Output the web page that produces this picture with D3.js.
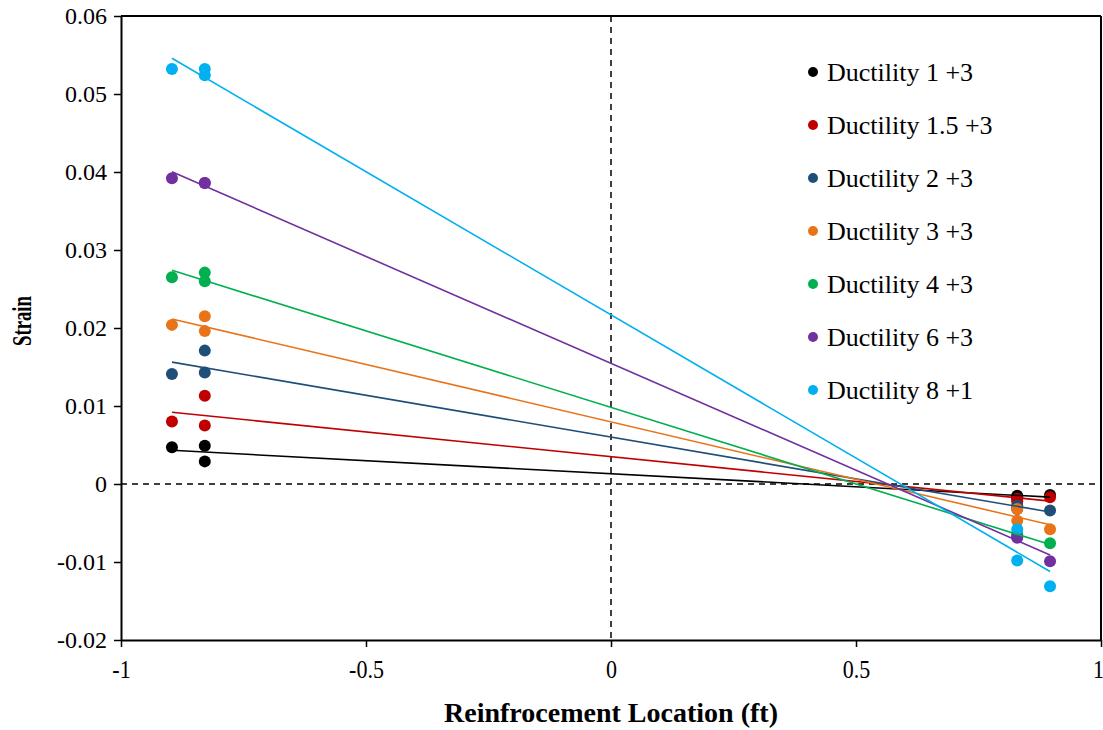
<!DOCTYPE html>
<html><head><meta charset="utf-8">
<script src="https://cdn.jsdelivr.net/npm/d3@7"></script>
<style>body{margin:0;background:#fff;} text{font-family:"Liberation Serif","Times New Roman",Times,serif;}</style>
</head><body><svg id="c" width="1103" height="730"></svg>
<script>
const seriesNames = ["Ductility 1 +3","Ductility 1.5 +3","Ductility 2 +3","Ductility 3 +3","Ductility 4 +3","Ductility 6 +3","Ductility 8 +1"];
const seriesColors = ["#000000","#C00000","#1F4E79","#E97318","#00B050","#7030A0","#00B0F0"];
const xLocations = [-0.896,-0.829,-0.829,0.829,0.829,0.896];
const duct1 = [0.0047,0.0049,0.0029,-0.0015,-0.0017,-0.0014];
const duct15 = [0.0080,0.0113,0.0075,-0.0022,-0.0019,-0.0017];
const duct2 = [0.0141,0.0171,0.0143,-0.0028,-0.0032,-0.0034];
const duct3 = [0.0204,0.0215,0.0196,-0.0032,-0.0047,-0.0058];
const duct4 = [0.0265,0.0271,0.0260,-0.0064,-0.0067,-0.0076];
const duct6 = [0.0392,0.0386,0.0386,-0.0068,-0.0069,-0.0099];
const duct8 = [0.0532,0.0532,0.0524,-0.0058,-0.0098,-0.0131];
const seriesValues = [duct1,duct15,duct2,duct3,duct4,duct6,duct8];
const xTicks = [-1,-0.5,0,0.5,1];
const yTicks = [-0.02,-0.01,0,0.01,0.02,0.03,0.04,0.05,0.06];

const svg = d3.select("#c");
const L=121,R=1101,T=16,B=640;
const x = d3.scaleLinear().domain([-1,1]).range([L,R]);
const y = d3.scaleLinear().domain([-0.02,0.06]).range([B,T]);
const FONT = '"Liberation Serif","Times New Roman",Times,serif';

// border top/right
svg.append("line").attr("x1",L).attr("x2",R).attr("y1",T).attr("y2",T).attr("stroke","#000").attr("stroke-width",2);
svg.append("line").attr("x1",R).attr("x2",R).attr("y1",T).attr("y2",B).attr("stroke","#000").attr("stroke-width",2);

// dashed zero lines
svg.append("line").attr("x1",x(0)).attr("x2",x(0)).attr("y1",T).attr("y2",B).attr("stroke","#000").attr("stroke-width",1.5).attr("stroke-dasharray","6,5");
svg.append("line").attr("x1",L).attr("x2",R).attr("y1",y(0)).attr("y2",y(0)).attr("stroke","#000").attr("stroke-width",1.5).attr("stroke-dasharray","6,5");

// axes
const xAxis = svg.append("g").attr("transform",`translate(0,${B})`)
  .call(d3.axisBottom(x).tickValues(xTicks).tickSize(7).tickSizeOuter(0).tickFormat(d=>String(d)));
const yAxis = svg.append("g").attr("transform",`translate(${L},0)`)
  .call(d3.axisLeft(y).tickValues(yTicks).tickSize(7).tickSizeOuter(0).tickFormat(d=>d===0?"0":d3.format(".2f")(d).replace("−","-")));
[xAxis,yAxis].forEach(g=>{g.attr("font-family",FONT);g.select(".domain").attr("stroke","#000").attr("stroke-width",2);g.selectAll(".tick line").attr("stroke","#000").attr("stroke-width",1.5);});
xAxis.selectAll(".tick text").attr("font-size",25).attr("fill","#000").attr("y",0).attr("dy",0);
xAxis.selectAll(".tick").each(function(d){ d3.select(this).select("text").attr("transform",`translate(${d===1?-3:0},38) scale(0.88,1)`); });
yAxis.selectAll(".tick text").attr("font-size",24).attr("fill","#000").attr("x",-14);

// points
seriesValues.forEach((vals,i)=>{
  svg.append("g").selectAll("circle").data(vals).join("circle")
    .attr("cx",(d,j)=>x(xLocations[j])).attr("cy",d=>y(d)).attr("r",6).attr("fill",seriesColors[i]);
});
// trendlines (least squares)
seriesValues.forEach((vals,i)=>{
  const mx=d3.mean(xLocations), my=d3.mean(vals);
  let sxy=0,sxx=0; vals.forEach((v,j)=>{sxy+=(xLocations[j]-mx)*(v-my);sxx+=(xLocations[j]-mx)**2;});
  const m=sxy/sxx,b=my-m*mx;
  const x0=d3.min(xLocations),x1=d3.max(xLocations);
  svg.append("line").attr("x1",x(x0)).attr("y1",y(m*x0+b)).attr("x2",x(x1)).attr("y2",y(m*x1+b))
    .attr("stroke",seriesColors[i]).attr("stroke-width",1.6);
});

// legend
const lg = svg.append("g");
seriesNames.forEach((n,i)=>{
  const cy=72+i*53;
  lg.append("circle").attr("cx",813).attr("cy",cy).attr("r",5).attr("fill",seriesColors[i]);
  lg.append("text").attr("x",827).attr("y",cy+9).attr("font-size",26).attr("fill","#000").text(n);
});

// axis titles
svg.append("text").attr("transform",`translate(31,321) rotate(-90)`).attr("text-anchor","middle")
  .attr("font-size",27).attr("font-weight","bold").attr("textLength",50).attr("lengthAdjust","spacingAndGlyphs").text("Strain");
svg.append("text").attr("x",(L+R)/2).attr("y",722).attr("text-anchor","middle").attr("font-size",27).attr("font-weight","bold")
  .attr("textLength",334).attr("lengthAdjust","spacingAndGlyphs").text("Reinfrocement  Location (ft)");
</script></body></html>
